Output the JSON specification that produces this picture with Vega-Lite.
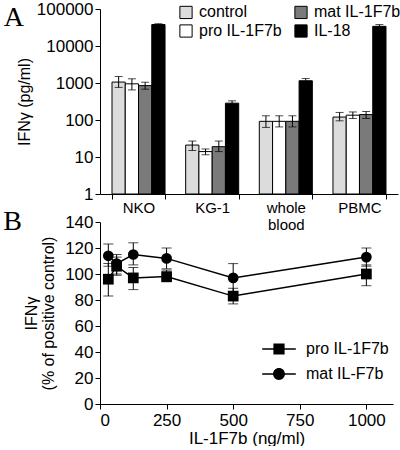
{
  "$schema": "https://vega.github.io/schema/vega-lite/v6.json",
  "background": "white",
  "padding": {"left": 3, "top": 0, "right": 0, "bottom": 0},
  "bounds": "flush",
  "spacing": 28,
  "config": {
    "font": "Liberation Sans",
    "view": {"stroke": null},
    "axis": {
      "domainColor": "black", "tickColor": "black", "labelColor": "black", "titleColor": "black",
      "grid": false, "labelFont": "Liberation Sans", "titleFont": "Liberation Sans",
      "titleFontWeight": "normal", "labelFontSize": 16, "titleFontSize": 16, "tickSize": 5, "labelPadding": 2,
      "labelOverlap": false
    },
    "legend": {"labelFont": "Liberation Sans", "labelColor": "black", "labelFontSize": 16, "padding": 0}
  },
  "resolve": {"legend": {"fill": "independent", "shape": "independent"}},
  "vconcat": [
    {
      "width": 298,
      "height": 185,
      "title": {"text": "A", "orient": "left", "anchor": "end", "angle": 0, "align": "right", "baseline": "top", "font": "Liberation Serif", "fontSize": 28, "fontWeight": "normal", "color": "black", "offset": -28, "dy": 4},
      "data": {"values": [
        {"cell": "NKO", "cond": "control", "value": 1060, "lo": 760, "hi": 1500},
        {"cell": "NKO", "cond": "pro IL-1F7b", "value": 950, "lo": 650, "hi": 1300},
        {"cell": "NKO", "cond": "mat IL-1F7b", "value": 850, "lo": 680, "hi": 1050},
        {"cell": "NKO", "cond": "IL-18", "value": 38000, "lo": 36000, "hi": 40000},
        {"cell": "KG-1", "cond": "control", "value": 21, "lo": 15, "hi": 27},
        {"cell": "KG-1", "cond": "pro IL-1F7b", "value": 14, "lo": 11.5, "hi": 16.5},
        {"cell": "KG-1", "cond": "mat IL-1F7b", "value": 19, "lo": 14, "hi": 27},
        {"cell": "KG-1", "cond": "IL-18", "value": 285, "lo": 250, "hi": 330},
        {"cell": "whole blood", "cond": "control", "value": 92, "lo": 63, "hi": 130},
        {"cell": "whole blood", "cond": "pro IL-1F7b", "value": 92, "lo": 65, "hi": 130},
        {"cell": "whole blood", "cond": "mat IL-1F7b", "value": 92, "lo": 65, "hi": 130},
        {"cell": "whole blood", "cond": "IL-18", "value": 1150, "lo": 1000, "hi": 1320},
        {"cell": "PBMC", "cond": "control", "value": 120, "lo": 95, "hi": 160},
        {"cell": "PBMC", "cond": "pro IL-1F7b", "value": 135, "lo": 110, "hi": 165},
        {"cell": "PBMC", "cond": "mat IL-1F7b", "value": 140, "lo": 110, "hi": 170},
        {"cell": "PBMC", "cond": "IL-18", "value": 34000, "lo": 30000, "hi": 38000}
      ]},
      "encoding": {
        "x": {"field": "cell", "type": "nominal", "sort": ["NKO", "KG-1", "whole blood", "PBMC"],
              "scale": {"paddingInner": 0.28, "paddingOuter": 0.163},
              "axis": {"title": null, "labelAngle": 0, "tickBand": "extent", "labelExpr": "split(datum.label, ' ')", "labelFontSize": 15, "labelPadding": 1, "labelLineHeight": 17}},
        "xOffset": {"field": "cond", "type": "nominal",
                    "scale": {"domain": ["control", "pro IL-1F7b", "mat IL-1F7b", "IL-18"], "paddingInner": 0, "paddingOuter": 0}}
      },
      "layer": [
        {
          "mark": {"type": "bar", "stroke": "black", "strokeWidth": 1},
          "encoding": {
            "y": {"field": "value", "type": "quantitative",
                  "scale": {"type": "log", "domain": [1, 100000]},
                  "axis": {"values": [1, 10, 100, 1000, 10000, 100000], "format": "d", "title": "IFNγ (pg/ml)", "labelFontSize": 17, "titlePadding": 4}},
            "y2": {"datum": 1},
            "fill": {"field": "cond", "type": "nominal",
                     "scale": {"domain": ["control", "pro IL-1F7b", "mat IL-1F7b", "IL-18"], "range": ["#dcdcdc", "#ffffff", "#7a7a7a", "#000000"]},
                     "legend": {"orient": "none", "legendX": 78, "legendY": -5, "columns": 2, "title": null,
                                "symbolType": "square", "symbolSize": 150, "symbolStrokeColor": "black", "symbolStrokeWidth": 1,
                                "columnPadding": 10, "rowPadding": 1, "labelOffset": 5}}
          }
        },
        {
          "mark": {"type": "rule", "color": "black", "strokeWidth": 1},
          "encoding": {
            "y": {"field": "lo", "type": "quantitative", "scale": {"type": "log"}},
            "y2": {"field": "hi"}
          }
        },
        {
          "mark": {"type": "tick", "orient": "horizontal", "color": "black", "size": 8, "thickness": 1},
          "encoding": {"y": {"field": "hi", "type": "quantitative", "scale": {"type": "log"}}}
        },
        {
          "mark": {"type": "tick", "orient": "horizontal", "color": "black", "size": 8, "thickness": 1},
          "encoding": {"y": {"field": "lo", "type": "quantitative", "scale": {"type": "log"}}}
        }
      ]
    },
    {
      "width": 293,
      "height": 182,
      "title": {"text": "B", "orient": "left", "anchor": "end", "angle": 0, "align": "right", "baseline": "top", "font": "Liberation Serif", "fontSize": 28, "fontWeight": "normal", "color": "black", "offset": -17, "dy": -5},
      "data": {"values": [
        {"series": "pro IL-1F7b", "conc": 31.25, "value": 96, "lo": 83, "hi": 108},
        {"series": "pro IL-1F7b", "conc": 62.5, "value": 106, "lo": 99, "hi": 113},
        {"series": "pro IL-1F7b", "conc": 125, "value": 97, "lo": 88, "hi": 105},
        {"series": "pro IL-1F7b", "conc": 250, "value": 98, "lo": 94, "hi": 103},
        {"series": "pro IL-1F7b", "conc": 500, "value": 83, "lo": 77, "hi": 89},
        {"series": "pro IL-1F7b", "conc": 1000, "value": 100, "lo": 91, "hi": 107},
        {"series": "mat IL-F7b", "conc": 31.25, "value": 114, "lo": 106, "hi": 123},
        {"series": "mat IL-F7b", "conc": 62.5, "value": 108, "lo": 100, "hi": 115},
        {"series": "mat IL-F7b", "conc": 125, "value": 115, "lo": 107, "hi": 124},
        {"series": "mat IL-F7b", "conc": 250, "value": 112, "lo": 104, "hi": 120},
        {"series": "mat IL-F7b", "conc": 500, "value": 97, "lo": 85, "hi": 108},
        {"series": "mat IL-F7b", "conc": 1000, "value": 113, "lo": 106, "hi": 120}
      ]},
      "encoding": {
        "x": {"field": "conc", "type": "quantitative", "scale": {"domain": [0, 1100], "nice": false},
              "axis": {"values": [0, 250, 500, 750, 1000], "format": "d", "title": "IL-1F7b (ng/ml)", "labelFontSize": 17, "titleFontSize": 17, "labelPadding": 3, "titlePadding": 2}}
      },
      "resolve": {"scale": {"shape": "independent"}},
      "layer": [
        {
          "mark": {"type": "rule", "color": "black", "strokeWidth": 1},
          "encoding": {
            "y": {"field": "lo", "type": "quantitative", "scale": {"domain": [0, 140], "nice": false},
                  "axis": {"values": [0, 20, 40, 60, 80, 100, 120, 140], "tickCount": 8, "labelOverlap": false, "labelFontSize": 17, "title": ["IFNγ", "(% of positive control)"], "titlePadding": 8, "titleLineHeight": 17}},
            "y2": {"field": "hi"},
            "detail": {"field": "series"}
          }
        },
        {
          "mark": {"type": "tick", "orient": "horizontal", "color": "black", "size": 10, "thickness": 1},
          "encoding": {"y": {"field": "hi", "type": "quantitative"}, "detail": {"field": "series"}}
        },
        {
          "mark": {"type": "tick", "orient": "horizontal", "color": "black", "size": 10, "thickness": 1},
          "encoding": {"y": {"field": "lo", "type": "quantitative"}, "detail": {"field": "series"}}
        },
        {
          "mark": {"type": "line", "color": "black", "strokeWidth": 1.5},
          "encoding": {
            "y": {"field": "value", "type": "quantitative"},
            "detail": {"field": "series"}
          }
        },
        {
          "mark": {"type": "point", "filled": true, "color": "black", "opacity": 1, "size": 115},
          "encoding": {
            "y": {"field": "value", "type": "quantitative"},
            "shape": {"field": "series", "type": "nominal",
                      "scale": {"domain": ["pro IL-1F7b", "mat IL-F7b"], "range": ["square", "circle"]},
                      "legend": null}
          }
        },
        {
          "mark": {"type": "point", "filled": true, "color": "black", "opacity": 0, "size": 196},
          "encoding": {
            "y": {"field": "value", "type": "quantitative"},
            "shape": {"field": "series", "type": "nominal",
                      "scale": {"domain": ["pro IL-1F7b", "mat IL-F7b"], "range": ["M-2.4,-0.11H2.4V0.11H-2.4ZM-0.8,-0.8H0.8V0.8H-0.8Z", "M-2.4,-0.11H2.4V0.11H-2.4ZM-0.85,0A0.85,0.85,0,1,1,0.85,0A0.85,0.85,0,1,1,-0.85,0Z"]},
                      "legend": {"orient": "none", "legendX": 171, "legendY": 119, "title": null,
                                 "symbolSize": 196, "symbolFillColor": "black", "symbolOpacity": 1,
                                 "labelOffset": 19, "rowPadding": 7}}
          }
        }
      ]
    }
  ]
}
